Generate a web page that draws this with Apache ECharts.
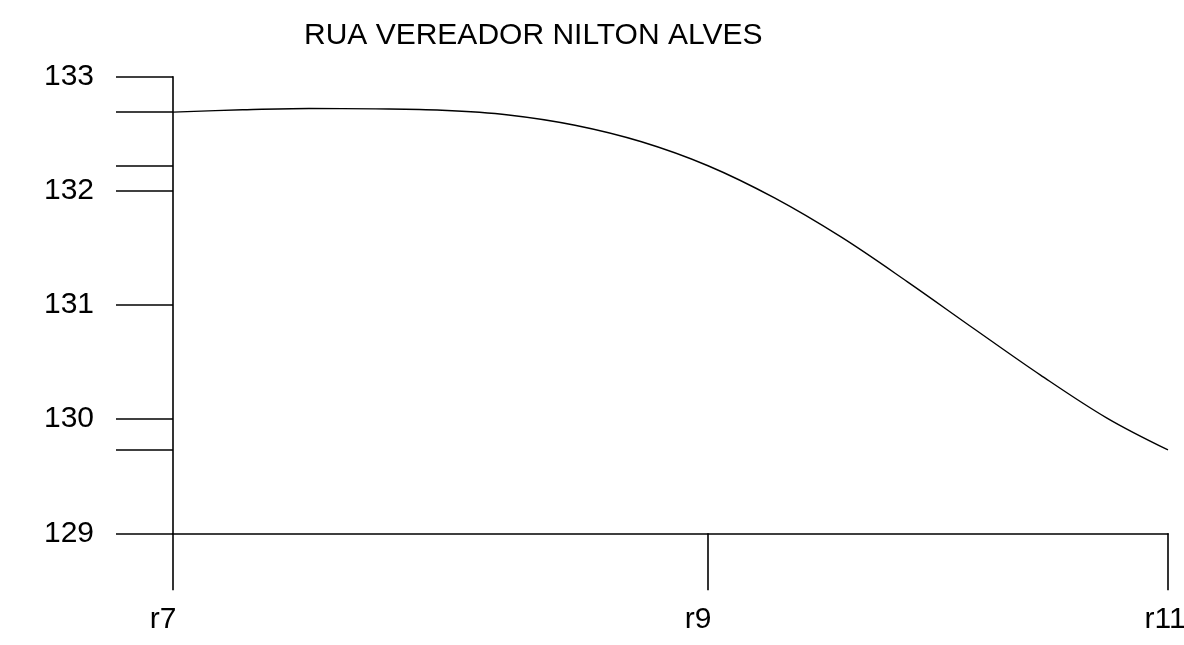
<!DOCTYPE html>
<html>
<head>
<meta charset="utf-8">
<title>RUA VEREADOR NILTON ALVES</title>
<script src="https://cdn.jsdelivr.net/npm/echarts@6/dist/echarts.min.js"></script>
<style>
  html, body { margin: 0; padding: 0; background: #ffffff; }
  #chart { width: 1184px; height: 645px; }
</style>
</head>
<body>
<div id="chart"></div>
<script>
// Street profile: stations along the road and their elevations
const chartTitle = 'RUA VEREADOR NILTON ALVES';
const stations = ['r7', 'r9', 'r11'];
const stationDist = [0, 107, 199];
const stationElev = [132.69, 132.22, 129.73];

// Elevation profile along the street (distance, elevation)
const profileDist = [0, 13.9, 27.2, 40.5, 53.8, 67.1, 80.4, 93.7, 107,
                     120.3, 133.6, 146.9, 160.2, 173.5, 186.8, 199];
const profileElev = [132.69, 132.710, 132.721, 132.718, 132.706, 132.665, 132.575, 132.430, 132.22,
                     131.938, 131.596, 131.203, 130.792, 130.386, 130.009, 129.73];

// Elevation axis labels
const elevTicks = [129, 130, 131, 132, 133];

const FONT = "'Liberation Sans', Arial, sans-serif";
const INK = '#000000';

const chart = echarts.init(document.getElementById('chart'), null, { renderer: 'canvas' });

const option = {
  backgroundColor: '#ffffff',
  animation: false,
  title: {
    text: chartTitle,
    left: 304,
    top: 21,
    padding: 0,
    textStyle: { fontFamily: FONT, fontSize: 30, fontWeight: 'normal', color: INK }
  },
  grid: {
    left: 173,
    right: 16,
    top: 76.7,
    bottom: 111.7,
    containLabel: false,
    outerBoundsMode: 'none'
  },
  xAxis: {
    type: 'value',
    min: stationDist[0],
    max: stationDist[stationDist.length - 1],
    splitLine: { show: false },
    axisLine: { show: true, lineStyle: { color: INK, width: 1.6 } },
    axisTick: {
      show: true,
      length: 57,
      customValues: stationDist,
      lineStyle: { color: INK, width: 1.6 }
    },
    axisLabel: {
      show: true,
      customValues: stationDist,
      margin: 71,
      fontFamily: FONT,
      fontSize: 30,
      color: INK,
      formatter: function (v) {
        const i = stationDist.indexOf(v);
        if (i < 0) return '';
        // the last label sits against the right edge
        return i === stations.length - 1 ? '{edge|' + stations[i] + '}' : '{mid|' + stations[i] + '}';
      },
      rich: {
        mid: { fontFamily: FONT, fontSize: 30, color: INK, padding: [0, 20, 0, 0] },
        edge: { fontFamily: FONT, fontSize: 30, color: INK, padding: [0, 6, 0, 0] }
      }
    }
  },
  yAxis: {
    type: 'value',
    min: 129,
    max: 133,
    interval: 1,
    splitLine: { show: false },
    axisLine: { show: true, lineStyle: { color: INK, width: 1.6 } },
    axisTick: {
      show: true,
      length: 57,
      customValues: elevTicks.concat(stationElev),
      lineStyle: { color: INK, width: 1.6 }
    },
    axisLabel: {
      show: true,
      customValues: elevTicks,
      margin: 79,
      fontFamily: FONT,
      fontSize: 30,
      color: INK,
      padding: [4, 0, 0, 0]
    }
  },
  series: [{
    type: 'line',
    data: profileDist.map((d, i) => [d, profileElev[i]]),
    smooth: 0.35,
    showSymbol: false,
    symbol: 'none',
    lineStyle: { color: INK, width: 1.4 },
    clip: false
  }]
};

chart.setOption(option);
</script>
</body>
</html>
